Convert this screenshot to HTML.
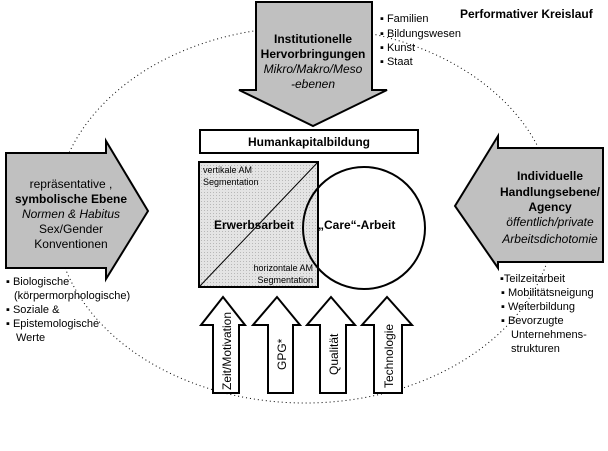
<!DOCTYPE html>
<html><head><meta charset="utf-8"><style>
body{margin:0;background:#fff}
svg{display:block}
text{font-family:"Liberation Sans",sans-serif;fill:#000}
</style></head><body>
<svg width="608" height="451" viewBox="0 0 608 451" xmlns="http://www.w3.org/2000/svg">
<defs>
<pattern id="dots" width="3" height="3" patternUnits="userSpaceOnUse"><rect width="3" height="3" fill="#e4e4e4"/><rect width="1" height="1" fill="#b8b8b8"/></pattern>
</defs>
<ellipse cx="305" cy="215" rx="250" ry="188" fill="none" stroke="#000" stroke-width="1" stroke-dasharray="1,3"/>
<!-- top arrow -->
<polygon points="256,2 372,2 372,90 387,90 313,126 239,90 256,90" fill="#c0c0c0" stroke="#000" stroke-width="2"/>
<text x="313" y="43" font-size="12" font-weight="bold" text-anchor="middle">Institutionelle</text>
<text x="313" y="58" font-size="12" font-weight="bold" text-anchor="middle">Hervorbringungen</text>
<text x="313" y="73" font-size="12" font-style="italic" text-anchor="middle">Mikro/Makro/Meso</text>
<text x="313" y="88" font-size="12" font-style="italic" text-anchor="middle">-ebenen</text>
<g font-size="11"><text x="380" y="22">▪ Familien</text><text x="380" y="37">▪ Bildungswesen</text><text x="380" y="51">▪ Kunst</text><text x="380" y="65">▪ Staat</text></g>
<text x="460" y="18" font-size="12" font-weight="bold">Performativer Kreislauf</text>
<!-- left arrow -->
<polygon points="6,153 106,153 106,141 148,211 106,279 106,268 6,268" fill="#c0c0c0" stroke="#000" stroke-width="2"/>
<g font-size="12" text-anchor="middle"><text x="71" y="188">repräsentative ,</text><text x="71" y="203" font-weight="bold">symbolische Ebene</text><text x="71" y="218" font-style="italic">Normen &amp; Habitus</text><text x="71" y="233">Sex/Gender</text><text x="71" y="248">Konventionen</text></g>
<g font-size="11"><text x="6" y="285">▪ Biologische</text><text x="14" y="299">(körpermorphologische)</text><text x="6" y="313">▪ Soziale &amp;</text><text x="6" y="327">▪ Epistemologische</text><text x="16" y="341">Werte</text></g>
<!-- right arrow -->
<polygon points="603,148 498,148 498,136 455,206 498,268 498,262 603,262" fill="#c0c0c0" stroke="#000" stroke-width="2"/>
<g font-size="12" text-anchor="middle"><text x="550" y="180" font-weight="bold">Individuelle</text><text x="550" y="196" font-weight="bold">Handlungsebene/</text><text x="550" y="211" font-weight="bold">Agency</text><text x="550" y="226" font-style="italic">öffentlich/private</text><text x="550" y="243" font-style="italic">Arbeitsdichotomie</text></g>
<g font-size="11"><text x="500" y="282">▪Teilzeitarbeit</text><text x="501" y="296">▪ Mobilitätsneigung</text><text x="501" y="310">▪ Weiterbildung</text><text x="501" y="324">▪ Bevorzugte</text><text x="511" y="338">Unternehmens-</text><text x="511" y="352">strukturen</text></g>
<!-- center -->
<rect x="200" y="130" width="218" height="23" fill="#fff" stroke="#000" stroke-width="2"/>
<text x="309" y="146" font-size="12" font-weight="bold" text-anchor="middle">Humankapitalbildung</text>
<rect x="199" y="162" width="119" height="125" fill="url(#dots)" stroke="#000" stroke-width="2"/>
<line x1="199" y1="287" x2="318" y2="162" stroke="#000" stroke-width="1"/>
<circle cx="364" cy="228" r="61" fill="none" stroke="#000" stroke-width="2"/>
<text x="203" y="173" font-size="9">vertikale AM</text><text x="203" y="185" font-size="9">Segmentation</text>
<text x="313" y="271" font-size="9" text-anchor="end">horizontale AM</text><text x="313" y="283" font-size="9" text-anchor="end">Segmentation</text>
<text x="214" y="229" font-size="12" font-weight="bold">Erwerbsarbeit</text>
<text x="318" y="229" font-size="12" font-weight="bold">„Care“-Arbeit</text>
<!-- up arrows -->
<g fill="#fff" stroke="#000" stroke-width="2">
<polygon points="213,393 239,393 239,325 245,325 223,297 201,325 213,325"/>
<polygon points="268,393 293,393 293,325 300,325 277,297 253,325 268,325"/>
<polygon points="320,393 346,393 346,325 355,325 331,297 307,325 320,325"/>
<polygon points="374,393 402,393 402,325 412,325 387,297 362,325 374,325"/>
</g>
<g font-size="12">
<text transform="translate(231,390) rotate(-90)">Zeit/Motivation</text>
<text transform="translate(286,370) rotate(-90)">GPG*</text>
<text transform="translate(338,375) rotate(-90)">Qualität</text>
<text transform="translate(393,388) rotate(-90)">Technologie</text>
</g>
</svg>
</body></html>
